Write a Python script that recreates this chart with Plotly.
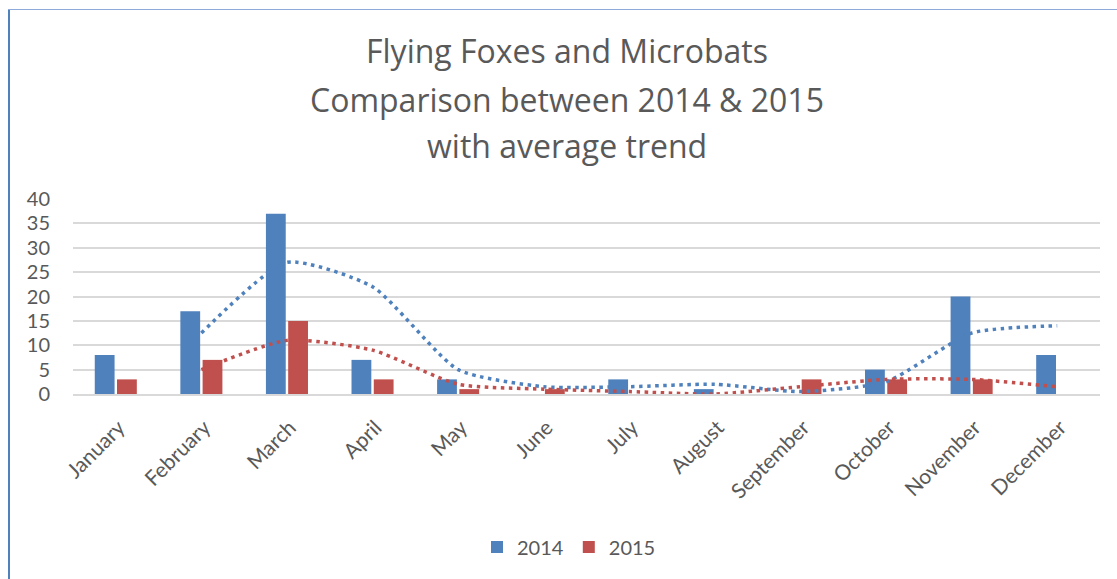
import plotly.graph_objects as go

months = ["January", "February", "March", "April", "May", "June", "July",
          "August", "September", "October", "November", "December"]
vals_2014 = [8, 17, 37, 7, 3, 0, 3, 1, 0, 5, 20, 8]
vals_2015 = [3, 7, 15, 3, 1, 1, 0, 0, 3, 3, 3, 0]
# two-period moving-average trend values
trend_2014 = [None, 12.5, 27, 22, 5, 1.5, 1.5, 2, 0.5, 2.5, 12.5, 14]
trend_2015 = [None, 5, 11, 9, 2, 1, 0.5, 0, 1.5, 3, 3, 1.5]
y_ticks = [0, 5, 10, 15, 20, 25, 30, 35, 40]
title_lines = ["Flying Foxes and Microbats",
               "Comparison between 2014 &amp; 2015",
               "with average trend"]

BLUE = "#4F81BD"
RED = "#C0504D"
TXT = "#595959"
FONT = "Lato"
TFONT = "Open Sans"

W, H = 1117, 579
L, R, T, B = 73, 17, 199, 185

fig = go.Figure()
fig.add_trace(go.Bar(x=months, y=vals_2014, name="2014", marker_color=BLUE,
                     marker_line_width=0))
fig.add_trace(go.Bar(x=months, y=vals_2015, name="2015", marker_color=RED,
                     marker_line_width=0))
fig.add_trace(go.Scatter(x=months, y=trend_2014, mode="lines", showlegend=False,
                         line=dict(color=BLUE, width=3.5, dash="3.5px,4.5px", shape="spline", smoothing=0.6),
                         connectgaps=False, hoverinfo="skip"))
fig.add_trace(go.Scatter(x=months, y=trend_2015, mode="lines", showlegend=False,
                         line=dict(color=RED, width=3.5, dash="3.5px,4.5px", shape="spline", smoothing=0.6),
                         connectgaps=False, hoverinfo="skip"))

pw = W - L - R
ph = H - T - B

def px_x(px):
    return (px - L) / pw

def px_y(py):
    return (H - B - py) / ph

title_y = [50, 99, 145]
annotations = [
    dict(text=t, xref="paper", yref="paper", x=px_x(567), y=px_y(yy),
         xanchor="center", yanchor="middle", showarrow=False,
         font=dict(family=TFONT, size=32, color=TXT))
    for t, yy in zip(title_lines, title_y)
]

fig.update_layout(
    width=W, height=H,
    margin=dict(l=L, r=R, t=T, b=B, autoexpand=False),
    paper_bgcolor="white", plot_bgcolor="white",
    font=dict(family=FONT, color=TXT),
    barmode="group", bargap=0.48, bargroupgap=0.11,
    annotations=annotations,
    xaxis=dict(tickangle=-45, tickfont=dict(size=21, color=TXT), showgrid=False,
               showline=True, linecolor="#D9D9D9", linewidth=2, ticks="",
               range=[-0.5, 11.5], ticklabelstandoff=11, ticklabelshift=3),
    yaxis=dict(range=[0, 40], tickvals=y_ticks, tickfont=dict(size=20, color=TXT),
               showgrid=True, gridcolor="#D9D9D9", gridwidth=2, zeroline=False,
               showline=False, ticks="", ticklabelstandoff=22),
    legend=dict(orientation="h", x=px_x(569), xanchor="center", y=px_y(547), yanchor="middle",
                font=dict(size=20, color=TXT), itemwidth=30, traceorder="normal"),
    shapes=[
        dict(type="line", xref="paper", yref="paper", x0=px_x(9), x1=px_x(9),
             y0=px_y(9), y1=px_y(590), line=dict(color="#4F81BD", width=2)),
        dict(type="line", xref="paper", yref="paper", x0=px_x(8), x1=px_x(1130),
             y0=px_y(9.5), y1=px_y(9.5), line=dict(color="#8EAADB", width=1.2)),
    ],
)

fig.write_html("out.html", config={"displayModeBar": False},
               post_script="document.body.style.margin='0';document.body.style.padding='0';")
